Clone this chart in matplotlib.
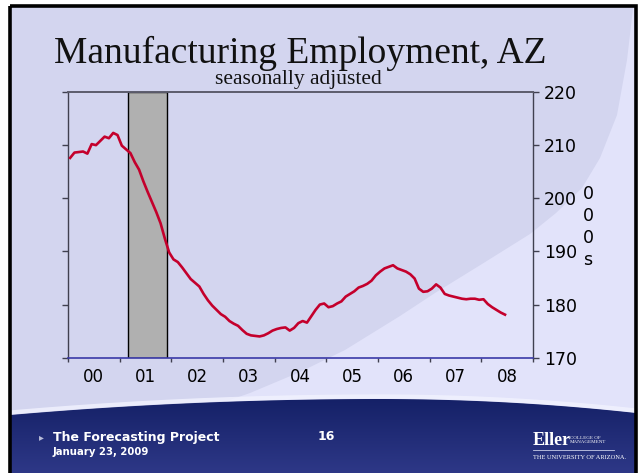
import numpy as np
import matplotlib
matplotlib.use("Agg")
import matplotlib.pyplot as plt
from matplotlib.patches import Rectangle, Polygon

# ---------------- data ----------------
start_year = 2000
employment = [
    # 2000
    207.6, 208.6, 208.7, 208.8, 208.4, 210.2, 210.0, 210.8, 211.6, 211.3, 212.3, 211.9,
    # 2001
    209.9, 209.2, 208.5, 206.8, 205.4, 203.2, 201.2, 199.3, 197.4, 195.3, 192.4, 189.8,
    # 2002
    188.5, 188.0, 187.0, 185.9, 184.8, 184.1, 183.4, 182.0, 180.8, 179.8, 179.0, 178.2,
    # 2003
    177.7, 176.9, 176.4, 176.0, 175.2, 174.5, 174.2, 174.1, 174.0, 174.2, 174.6, 175.1,
    # 2004
    175.4, 175.6, 175.7, 175.1, 175.6, 176.5, 176.9, 176.6, 177.8, 179.0, 180.0, 180.2,
    # 2005
    179.5, 179.7, 180.2, 180.6, 181.5, 182.0, 182.5, 183.2, 183.5, 183.9, 184.5, 185.5,
    # 2006
    186.2, 186.8, 187.1, 187.4, 186.8, 186.5, 186.2, 185.7, 184.9, 183.0, 182.4, 182.5,
    # 2007
    183.0, 183.8, 183.2, 182.0, 181.7, 181.5, 181.3, 181.1, 181.0, 181.1, 181.1, 180.9,
    # 2008
    181.0, 180.1, 179.5, 179.0, 178.5, 178.1,
]
year_labels = ["00", "01", "02", "03", "04", "05", "06", "07", "08"]
recession_start = 2001 + 2 / 12   # March 2001
recession_end = 2001 + 11 / 12    # November 2001
y_ticks = [170, 180, 190, 200, 210, 220]

title = "Manufacturing Employment, AZ"
subtitle = "seasonally adjusted"
units_label = "0\n0\n0\ns"
footer_title = "The Forecasting Project"
footer_date = "January 23, 2009"
page_number = "16"

months = np.arange(len(employment))
xdates = start_year + (months + 0.5) / 12

# ---------------- figure ----------------
W, H = 640, 473
fig = plt.figure(figsize=(W / 100, H / 100), dpi=100)
fig.patch.set_facecolor("white")

bg = fig.add_axes([0, 0, 1, 1])
bg.set_xlim(0, W)
bg.set_ylim(H, 0)
bg.axis("off")

slide = Rectangle((10, 6.5), 626, 475, facecolor="#d3d5ef", edgecolor="none", zorder=0)
bg.add_patch(slide)

# lighter sweeping arc region (lower right)
arc = [(634, 0), (627, 60), (617, 115), (600, 158), (582, 188), (556, 213),
       (530, 234), (482, 264), (435, 293), (400, 316), (345, 350), (300, 372),
       (250, 393), (150, 428), (100, 445)]
light = Polygon(arc + [(100, 480), (640, 480), (640, 0)], closed=True,
                facecolor="#e2e3fa", edgecolor="none", zorder=1)
bg.add_patch(light)
light.set_clip_path(slide)

# footer navy band with arched top
xs = np.linspace(10, 636, 300)
peak_x, peak_y = 380, 399
ytop = np.where(xs < peak_x,
                peak_y + 16 * ((xs - peak_x) / (peak_x - 10)) ** 2,
                peak_y + 14 * ((xs - peak_x) / (636 - peak_x)) ** 2)
foot_pts = list(zip(xs, ytop)) + [(636, 480), (10, 480)]
foot = Polygon(foot_pts, closed=True, facecolor="none", edgecolor="none", zorder=2)
bg.add_patch(foot)
grad = np.linspace(0, 1, 100)[:, None]
c_top = np.array([20, 32, 102]) / 255
c_bot = np.array([48, 58, 138]) / 255
img = c_top[None, None, :] * (1 - grad[..., None]) + c_bot[None, None, :] * grad[..., None]
img = np.repeat(img, 2, axis=1)
im = bg.imshow(img, extent=(10, 636, 480, 396), aspect="auto", zorder=2,
               interpolation="bilinear")
im.set_clip_path(foot)
bg.plot(xs, ytop - 2.5, color="#f2f3ff", lw=3, alpha=0.8, zorder=2)
bg.set_xlim(0, W)
bg.set_ylim(H, 0)

# outer black frame
bg.add_patch(Rectangle((10, 6.5), 626, 475, facecolor="none", edgecolor="black",
                       lw=2.6, zorder=5))

# title texts
bg.text(300, 63, title, family="Liberation Serif", fontsize=27, ha="center",
        va="baseline", color="#111111", zorder=6)
bg.text(298, 84, subtitle, family="Liberation Serif", fontsize=15.5, ha="center",
        va="baseline", color="#111111", zorder=6)

# footer texts
bg.text(39, 437, "\u25B8", fontsize=7, color="#b8bcd8", ha="left", va="center", zorder=6)
bg.text(53, 437, footer_title, family="DejaVu Sans", fontweight="bold", fontsize=9,
        color="white", ha="left", va="center", zorder=6)
bg.text(53, 452, footer_date, family="DejaVu Sans", fontweight="bold", fontsize=7.3,
        color="white", ha="left", va="center", zorder=6)
bg.text(326, 436, page_number, family="DejaVu Sans", fontweight="bold", fontsize=9,
        color="white", ha="center", va="center", zorder=6)
# logo
bg.text(533, 440, "Eller", family="Liberation Serif", fontweight="bold", fontsize=13,
        color="white", ha="left", va="center", zorder=6)
bg.text(570, 440, "COLLEGE OF\nMANAGEMENT", family="Liberation Serif", fontsize=3.6,
        color="white", ha="left", va="center", linespacing=1.1, zorder=6)
bg.plot([533, 614], [450, 450], color="#c8cce8", lw=0.6, zorder=6)
bg.text(533, 457, "THE UNIVERSITY OF ARIZONA.", family="Liberation Serif", fontsize=4.6,
        color="white", ha="left", va="center", zorder=6)

# ---------------- chart axes ----------------
L, R, T, B = 68, 533, 92, 357.7
ax = fig.add_axes([L / W, 1 - B / H, (R - L) / W, (B - T) / H])
ax.patch.set_visible(False)
ax.set_zorder(3)

ax.axvspan(recession_start, recession_end, ymin=0, ymax=1, facecolor="#b0b0b0",
           edgecolor="black", lw=1.0, zorder=1)
ax.plot(xdates, employment, color="#c4002c", lw=1.9, zorder=3, solid_joinstyle="round")

ax.set_xlim(2000, 2009)
ax.set_ylim(170, 220)

ax.set_xticks(np.arange(2000, 2010))
ax.set_xticklabels([])
ax.set_xticks(np.arange(2000, 2009) + 0.5, minor=True)
ax.set_xticklabels(year_labels, minor=True)
ax.tick_params(axis="x", which="major", direction="out", length=3, width=1,
               color="#404050")
ax.tick_params(axis="x", which="minor", length=0, pad=7.5, labelsize=12,
               labelcolor="black")

ax.set_yticks(y_ticks)
ax.yaxis.set_ticks_position("both")
ax.tick_params(axis="y", left=True, right=True, labelleft=False, labelright=True,
               direction="out", length=4, width=1, color="#404050", pad=4,
               labelsize=12.5)

for side, col, lw in [("top", "#5c5c6c", 1.4), ("left", "#404050", 1.0),
                      ("right", "#404050", 1.0), ("bottom", "#3a3aa8", 1.2)]:
    ax.spines[side].set_color(col)
    ax.spines[side].set_linewidth(lw)

bg.text(588, 227, units_label, fontsize=12.5, ha="center", va="center",
        linespacing=1.3, color="black", zorder=6)

fig.savefig("out.png", dpi=100)
